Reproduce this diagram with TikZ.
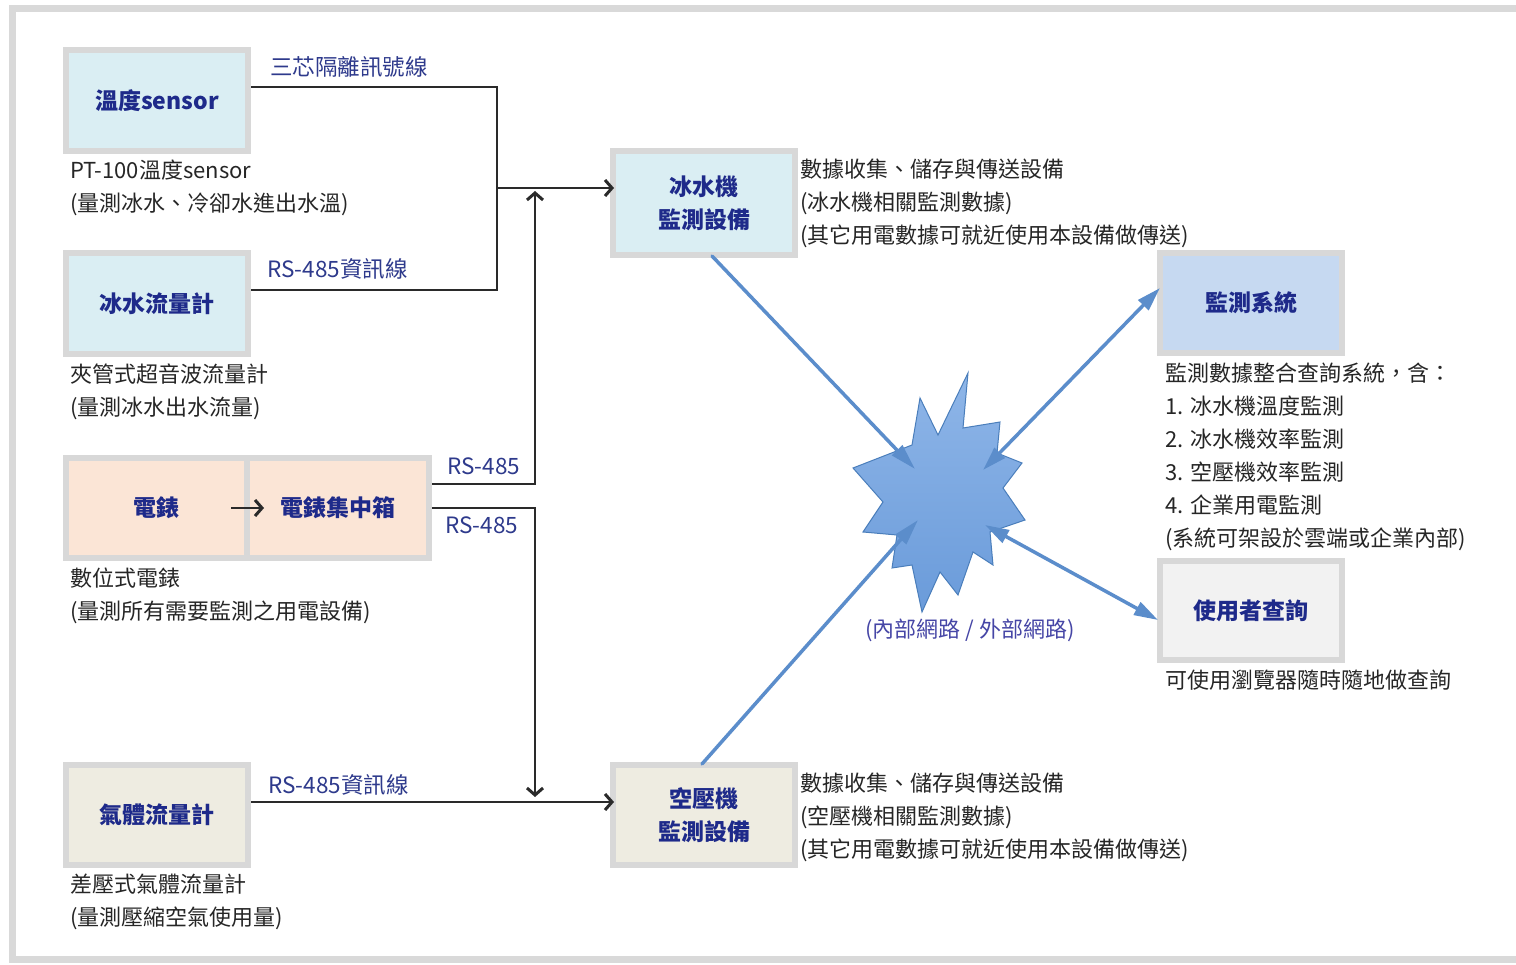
\documentclass[tikz,border=0pt]{standalone}
\usepackage{fontspec}
\setmainfont{Noto Sans CJK TC}
\usetikzlibrary{arrows.meta,calc}
\definecolor{framegray}{HTML}{D9D9D9}
\definecolor{boxgray}{HTML}{D8D8D8}
\definecolor{boxtext}{HTML}{1E2A8A}
\definecolor{labelblue}{HTML}{2E3A8C}
\definecolor{desctext}{HTML}{262626}
\definecolor{netlabel}{HTML}{4646A6}
\definecolor{lineblack}{HTML}{2A2A2A}
\definecolor{fillaqua}{HTML}{DAEEF3}
\definecolor{fillpeach}{HTML}{FBE5D6}
\definecolor{filltan}{HTML}{EEECE1}
\definecolor{fillsys}{HTML}{C6D9F1}
\definecolor{filluser}{HTML}{F2F2F2}
\definecolor{netblue}{HTML}{5B8DCB}
\definecolor{startop}{HTML}{8FB6E8}
\definecolor{starbot}{HTML}{6A9BDA}
\definecolor{starline}{HTML}{4A7EBB}
\begin{document}
\begin{tikzpicture}[x=1pt,y=-1pt,
  box/.style={draw=boxgray, line width=6pt, minimum width=182pt, minimum height=101pt,
    inner sep=0pt, font=\fontsize{23}{33}\selectfont\bfseries, text=boxtext, align=center},
  desc/.style={anchor=north west, inner sep=0pt, align=left, text=desctext,
    font=\fontsize{22}{33}\selectfont},
  lbl/.style={anchor=west, inner sep=0pt, text=labelblue, font=\fontsize{22.5}{26}\selectfont},
  conn/.style={draw=lineblack, line width=2.2pt},
  arr/.style={conn, -{Straight Barb[length=7pt,width=16pt,line width=3pt]}},
  netarr/.style={draw=netblue, line width=3.5pt, line cap=round, -{Triangle[length=26pt,width=14pt]}},
  netdbl/.style={draw=netblue, line width=3.5pt, {Triangle[length=24pt,width=14pt]}-{Triangle[length=24pt,width=14pt]}}
]
\useasboundingbox (0,0) rectangle (1516,965);
\fill[white] (0,0) rectangle (1516,965);
% frame
\draw[framegray, line width=7pt] (1516,8.5) -- (12.5,8.5) -- (12.5,959) -- (1516,959);

% boxes
\node[box, fill=fillaqua] (sensor) at (157,100.5) {溫度sensor};
\node[box, fill=fillaqua] (flow) at (157,303.5) {冰水流量計};
\node[box, fill=fillpeach, minimum width=181pt, minimum height=100pt] (meter) at (156.5,508) {電錶};
\node[box, fill=fillpeach, minimum width=182pt, minimum height=100pt] (hub) at (338,508) {電錶集中箱};
\node[box, fill=filltan, minimum height=100pt] (gas) at (157,815) {氣體流量計};
\node[box, fill=fillaqua, minimum height=104pt] (chiller) at (704,203) {冰水機\\監測設備};
\node[box, fill=filltan, minimum height=100pt] (aircomp) at (704,815) {空壓機\\監測設備};
\node[box, fill=fillsys, minimum height=100pt] (monitor) at (1251,303) {監測系統};
\node[box, fill=filluser, minimum height=99pt] (user) at (1251,610.5) {使用者查詢};

% descriptions
\node[desc] (d1) at (70,160) {PT-100溫度sensor\\(量測冰水、冷卻水進出水溫)};
\node[desc] (d2) at (70,364) {夾管式超音波流量計\\(量測冰水出水流量)};
\node[desc] (d3) at (70,568) {數位式電錶\\(量測所有需要監測之用電設備)};
\node[desc] (d4) at (70,874) {差壓式氣體流量計\\(量測壓縮空氣使用量)};
\node[desc] (d5) at (800,159) {數據收集、儲存與傳送設備\\(冰水機相關監測數據)\\(其它用電數據可就近使用本設備做傳送)};
\node[desc] (d6) at (800,773) {數據收集、儲存與傳送設備\\(空壓機相關監測數據)\\(其它用電數據可就近使用本設備做傳送)};
\node[desc] (d7) at (1165,363) {監測數據整合查詢系統，含：\\1. 冰水機溫度監測\\2. 冰水機效率監測\\3. 空壓機效率監測\\4. 企業用電監測\\(系統可架設於雲端或企業內部)};
\node[desc] (d8) at (1165,670) {可使用瀏覽器隨時隨地做查詢};

% line labels
\node[lbl] (l1) at (270,67) {三芯隔離訊號線};
\node[lbl] (l2) at (267,269) {RS-485資訊線};
\node[lbl] (l3) at (447,466) {RS-485};
\node[lbl] (l4) at (445,525) {RS-485};
\node[lbl] (l5) at (268,785) {RS-485資訊線};

% connectors
\coordinate (join) at (497,188);
\coordinate (upTip) at (535,191);
\coordinate (downTip) at (535,797);
\draw[conn] ([yshift=13.5pt]sensor.east) -| (join) |- ([yshift=13.5pt]flow.east);
\draw[arr] (join) -- ([yshift=15pt,xshift=4pt]chiller.west);
\draw[arr] ([yshift=24pt]hub.east) -| (upTip);
\draw[arr] (hub.east) -| (downTip);
\draw[arr] ([yshift=13pt]gas.east) -- ([yshift=13pt,xshift=4pt]aircomp.west);
\draw[arr] ([xshift=-19pt]meter.east) -- ([xshift=20pt]hub.west);

% network star
\coordinate (star) at (940,490);
\shade[top color=startop, bottom color=starbot, draw=starline, line width=1pt]
  (920,398) -- (938,435) -- (968,373) -- (963,428) -- (1000,422) -- (997,453)
  -- (1022,463) -- (1003,488) -- (1025,520) -- (990,532) -- (993,565) -- (973,552)
  -- (958,595) -- (940,572) -- (922,612) -- (912,565) -- (892,568) -- (897,535)
  -- (863,532) -- (883,502) -- (853,468) -- (912,445) -- cycle;
\node[inner sep=0pt, text=netlabel, font=\fontsize{22}{26}\selectfont] (netlbl) at (970,630) {(內部網路 / 外部網路)};

\coordinate (s1) at (915,469);
\coordinate (s2) at (918,520);
\coordinate (s3) at (983,470);
\coordinate (s4) at (985,525);
\draw[netarr] ([xshift=8pt,yshift=2pt]chiller.south) -- (s1);
\draw[netarr] ([xshift=-2pt,yshift=-2pt]aircomp.north) -- (s2);
\draw[netdbl] (s3) -- ([yshift=15pt,xshift=3pt]monitor.west);
\draw[netdbl] (s4) -- ([yshift=-9.5pt,xshift=1pt]user.west);
\end{tikzpicture}
\end{document}
